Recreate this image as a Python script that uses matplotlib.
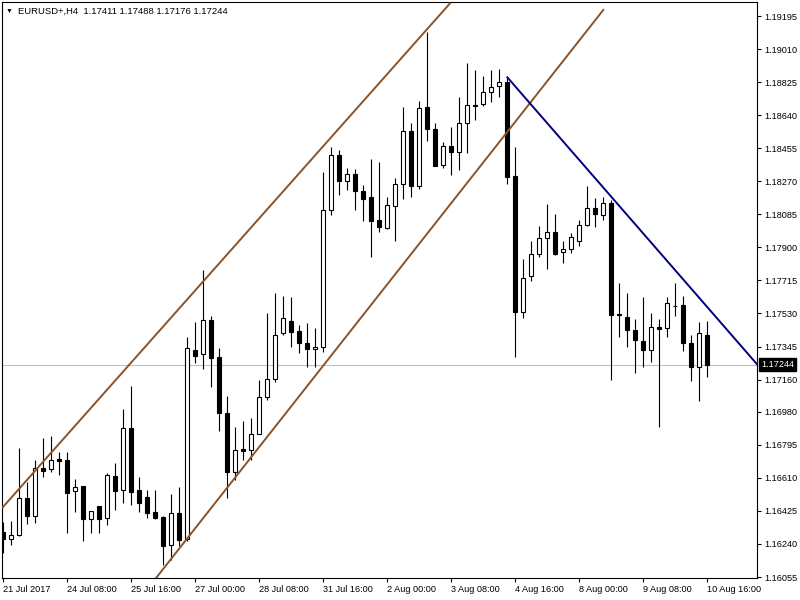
import numpy as np
import matplotlib.pyplot as plt
from matplotlib import transforms

# EURUSD H4 bars
opens = [1.16309, 1.16266, 1.16289, 1.16497, 1.16398, 1.16665, 1.16658, 1.16716, 1.16708, 1.16535,
         1.16563, 1.16378, 1.16453, 1.16384, 1.16619, 1.16540, 1.16887, 1.16542, 1.16503, 1.16419,
         1.16393, 1.16233, 1.16413, 1.16266, 1.17326, 1.17302, 1.17492, 1.17285, 1.16971, 1.16645,
         1.16772, 1.16764, 1.16854, 1.17061, 1.17162, 1.17419, 1.17488, 1.17432, 1.17363, 1.17330,
         1.17341, 1.18108, 1.18417, 1.18273, 1.18311, 1.18217, 1.18182, 1.18053, 1.18010, 1.18133,
         1.18253, 1.18550, 1.18245, 1.18684, 1.18561, 1.18361, 1.18467, 1.18432, 1.18595, 1.18697,
         1.18701, 1.18768, 1.18802, 1.18825, 1.18300, 1.17540, 1.17742, 1.17861, 1.17951, 1.17985,
         1.17873, 1.17889, 1.17937, 1.18024, 1.18119, 1.18080, 1.18147, 1.17527, 1.17510, 1.17436,
         1.17376, 1.17324, 1.17453, 1.17447, 1.17573, 1.17578, 1.17363, 1.17231, 1.17411]
highs = [1.16365, 1.16369, 1.16776, 1.16589, 1.16710, 1.16833, 1.16844, 1.16755, 1.16757, 1.16604,
         1.16564, 1.16425, 1.16453, 1.16636, 1.16693, 1.16995, 1.17124, 1.16615, 1.16540, 1.16542,
         1.16396, 1.16520, 1.16557, 1.17400, 1.17484, 1.17773, 1.17516, 1.17335, 1.17068, 1.16893,
         1.16927, 1.16945, 1.17158, 1.17534, 1.17646, 1.17630, 1.17622, 1.17466, 1.17477, 1.17449,
         1.18324, 1.18464, 1.18445, 1.18343, 1.18340, 1.18249, 1.18393, 1.18380, 1.18180, 1.18287,
         1.18686, 1.18598, 1.18719, 1.19104, 1.18595, 1.18488, 1.18574, 1.18740, 1.18934, 1.18893,
         1.18858, 1.18893, 1.18897, 1.18852, 1.18464, 1.17833, 1.17936, 1.18020, 1.18143, 1.18087,
         1.17937, 1.17979, 1.18053, 1.18244, 1.18178, 1.18184, 1.18165, 1.17701, 1.17645, 1.17498,
         1.17621, 1.17531, 1.17498, 1.17621, 1.17702, 1.17628, 1.17410, 1.17484, 1.17488]
lows = [1.16191, 1.16236, 1.16285, 1.16352, 1.16359, 1.16617, 1.16645, 1.16628, 1.16303, 1.16421,
        1.16258, 1.16303, 1.16303, 1.16346, 1.16430, 1.16471, 1.16458, 1.16421, 1.16384, 1.16381,
        1.16122, 1.16150, 1.16229, 1.16257, 1.17255, 1.17218, 1.17120, 1.16874, 1.16499, 1.16598,
        1.16710, 1.16710, 1.16854, 1.17044, 1.17148, 1.17411, 1.17344, 1.17311, 1.17231, 1.17231,
        1.17316, 1.18081, 1.18193, 1.18221, 1.18109, 1.18048, 1.17848, 1.17988, 1.18001, 1.17937,
        1.18171, 1.18184, 1.18225, 1.18497, 1.18357, 1.18343, 1.18305, 1.18333, 1.18430, 1.18613,
        1.18689, 1.18712, 1.18739, 1.18253, 1.17285, 1.17503, 1.17714, 1.17845, 1.17781, 1.17857,
        1.17814, 1.17870, 1.17908, 1.18020, 1.18016, 1.18053, 1.17156, 1.17400, 1.17340, 1.17197,
        1.17228, 1.17257, 1.16893, 1.17397, 1.17518, 1.17322, 1.17154, 1.17042, 1.17176]
closes = [1.16266, 1.16289, 1.16497, 1.16398, 1.16664, 1.16650, 1.16708, 1.16706, 1.16527, 1.16557,
          1.16381, 1.16423, 1.16378, 1.16624, 1.16538, 1.16887, 1.16533, 1.16471, 1.16415, 1.16385,
          1.16230, 1.16412, 1.16264, 1.17335, 1.17294, 1.17492, 1.17283, 1.16971, 1.16645, 1.16764,
          1.16762, 1.16856, 1.17063, 1.17163, 1.17408, 1.17503, 1.17428, 1.17367, 1.17330, 1.17341,
          1.18109, 1.18417, 1.18273, 1.18311, 1.18217, 1.18171, 1.18049, 1.18016, 1.18136, 1.18253,
          1.18550, 1.18245, 1.18678, 1.18561, 1.18357, 1.18467, 1.18432, 1.18595, 1.18695, 1.18690,
          1.18768, 1.18795, 1.18825, 1.18294, 1.17540, 1.17727, 1.17861, 1.17951, 1.17985, 1.17863,
          1.17889, 1.17956, 1.18025, 1.18119, 1.18085, 1.18147, 1.17523, 1.17524, 1.17435, 1.17380,
          1.17324, 1.17453, 1.17445, 1.17587, 1.17570, 1.17363, 1.17229, 1.17419, 1.17244]

time_labels = ['21 Jul 2017', '24 Jul 08:00', '25 Jul 16:00', '27 Jul 00:00', '28 Jul 08:00',
               '31 Jul 16:00', '2 Aug 00:00', '3 Aug 08:00', '4 Aug 16:00', '8 Aug 00:00',
               '9 Aug 08:00', '10 Aug 16:00']
price_ticks = [1.19195, 1.19010, 1.18825, 1.18640, 1.18455, 1.18270, 1.18085, 1.17900, 1.17715,
               1.17530, 1.17345, 1.17160, 1.16980, 1.16795, 1.16610, 1.16425, 1.16240, 1.16055]

# trend lines as (bar index, price) end points
upper_x, upper_y = [-0.04, 55.88], [1.16445, 1.19266]
lower_x, lower_y = [19.0, 75.04], [1.16042, 1.19229]
down_x, down_y = [63.04, 94.25], [1.18852, 1.17246]
bid = 1.17244
header = 'EURUSD+,H4  1.17411 1.17488 1.17176 1.17244'

plt.rcParams['font.family'] = ['Liberation Sans', 'DejaVu Sans']

fig = plt.figure(figsize=(8, 6), dpi=100)
ax = fig.add_axes([2 / 800, 22 / 600, 755 / 800, 576 / 600])

x = np.arange(len(opens))
o = np.array(opens)
c = np.array(closes)
up = c >= o

ax.axhline(bid, color='#C0C0C0', lw=0.8, zorder=1)
ax.vlines(x, lows, highs, color='black', lw=0.8, zorder=2)
ax.bar(x, np.maximum(np.abs(c - o), 0.00002), bottom=np.minimum(o, c), width=0.55,
       color=['white' if u else 'black' for u in up], edgecolor='black', linewidth=0.8, zorder=3)

brown = '#8B5328'
ax.plot(upper_x, upper_y, color=brown, lw=1.4, zorder=4)
ax.plot(lower_x, lower_y, color=brown, lw=1.4, zorder=4)
ax.plot(down_x, down_y, color='#000080', lw=1.4, zorder=4)

ax.set_xlim(-0.125, 94.25)
ax.set_ylim(1.160495, 1.192734)

ax.set_xticks(np.arange(0, 89, 8))
ax.set_xticklabels(time_labels, ha='left')
ax.yaxis.tick_right()
ax.set_yticks(price_ticks)
ax.set_yticklabels(['%.5f' % v for v in price_ticks])
ax.tick_params(axis='both', direction='out', length=3, width=0.8, labelsize=6.6, pad=2.2)
for s in ax.spines.values():
    s.set_linewidth(0.8)

trans = transforms.blended_transform_factory(ax.transAxes, ax.transData)
ax.text(1.0055, bid, '%.5f' % bid, transform=trans, color='white', fontsize=6.6,
        va='center', ha='left', clip_on=False,
        bbox=dict(boxstyle='square,pad=0.2', fc='black', ec='black'))

fig.text(6 / 800, 1 - 11 / 600, '\u25BC', fontsize=5, va='center')
fig.text(18 / 800, 1 - 11 / 600, header, fontsize=6.8, va='center')

fig.savefig('out.png', dpi=100)
